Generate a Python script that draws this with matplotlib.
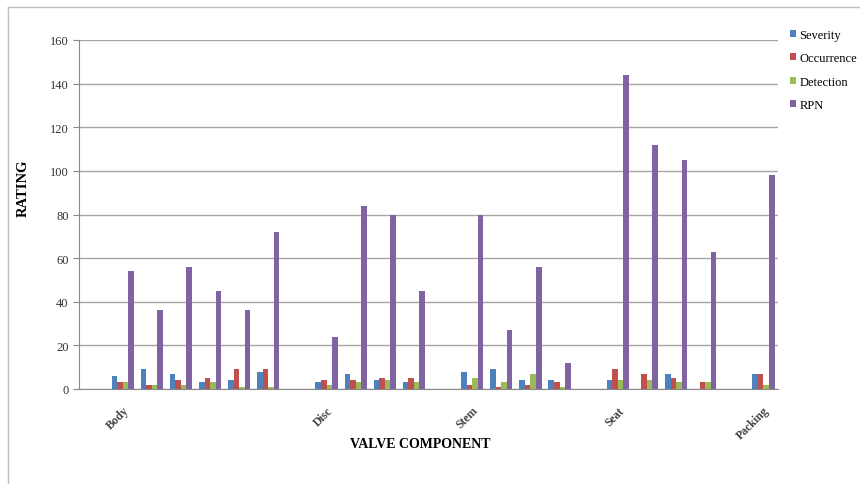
import matplotlib
matplotlib.use('Agg')
import matplotlib.pyplot as plt
import numpy as np

# 24 category slots, labels only on first failure mode of each component
labels = ['', 'Body', '', '', '', '', '', '',
          'Disc', '', '', '', '',
          'Stem', '', '', '', '',
          'Seat', '', '', '', '',
          'Packing']
severity   = [0, 6, 9, 7, 3, 4, 8, 0, 3, 7, 4, 3, 0, 8, 9, 4, 4, 0, 4, 0, 7, 0, 0, 7]
occurrence = [0, 3, 2, 4, 5, 9, 9, 0, 4, 4, 5, 5, 0, 2, 1, 2, 3, 0, 9, 7, 5, 3, 0, 7]
detection  = [0, 3, 2, 2, 3, 1, 1, 0, 2, 3, 4, 3, 0, 5, 3, 7, 1, 0, 4, 4, 3, 3, 0, 2]
rpn        = [0, 54, 36, 56, 45, 36, 72, 0, 24, 84, 80, 45, 0, 80, 27, 56, 12, 0, 144, 112, 105, 63, 0, 98]

series = [('Severity', severity, '#4F81BD'),
          ('Occurrence', occurrence, '#C0504D'),
          ('Detection', detection, '#9BBB59'),
          ('RPN', rpn, '#8064A2')]

plt.rcParams['font.family'] = ['Liberation Serif', 'DejaVu Serif']

fig = plt.figure(figsize=(8.6, 4.85), dpi=100)
ax = fig.add_axes([79/860, 1 - 390/485, 699/860, 349/485])

x = np.arange(len(labels))
w = 0.19
for i, (name, vals, col) in enumerate(series):
    ax.bar(x + (i - 1.5) * w, vals, w, color=col, label=name, zorder=3)

ax.set_xlim(-0.5, len(labels) - 0.5)
ax.set_ylim(0, 160)
ax.set_yticks(range(0, 161, 20))
ax.yaxis.grid(True, color='#A6A6A6', linewidth=1, zorder=0)
ax.set_xticks(x)
ax.set_xticklabels(labels, rotation=45, ha='right', rotation_mode='anchor',
                   fontsize=8.5, fontweight='bold', color='#444444')
ax.tick_params(axis='x', length=0, pad=11)
ax.tick_params(axis='y', length=4, color='#888888', labelsize=9, labelcolor='#333333', direction='out')
for s in ['top', 'right']:
    ax.spines[s].set_visible(False)
ax.spines['left'].set_color('#888888')
ax.spines['bottom'].set_color('#888888')

ax.set_ylabel('RATING', fontsize=10.5, fontweight='bold')
ax.yaxis.set_label_coords(-0.070, 0.579)
ax.set_xlabel('VALVE COMPONENT', fontsize=10, fontweight='bold')
ax.xaxis.set_label_coords(0.488, -0.1375)

leg = fig.legend(loc='upper left', bbox_to_anchor=(785/860, 1 - 25/485), frameon=False,
                 fontsize=9, handlelength=0.5, handleheight=0.5, handletextpad=0.25,
                 labelspacing=0.9, borderaxespad=0)

# outer frame lines of the original picture
fig.add_artist(plt.Line2D([8/860, 8/860], [0, 1 - 8/485], color='#BFBFBF', lw=1))
fig.add_artist(plt.Line2D([8/860, 1], [1 - 8/485, 1 - 8/485], color='#BFBFBF', lw=1))

fig.savefig('out.png', dpi=100)
